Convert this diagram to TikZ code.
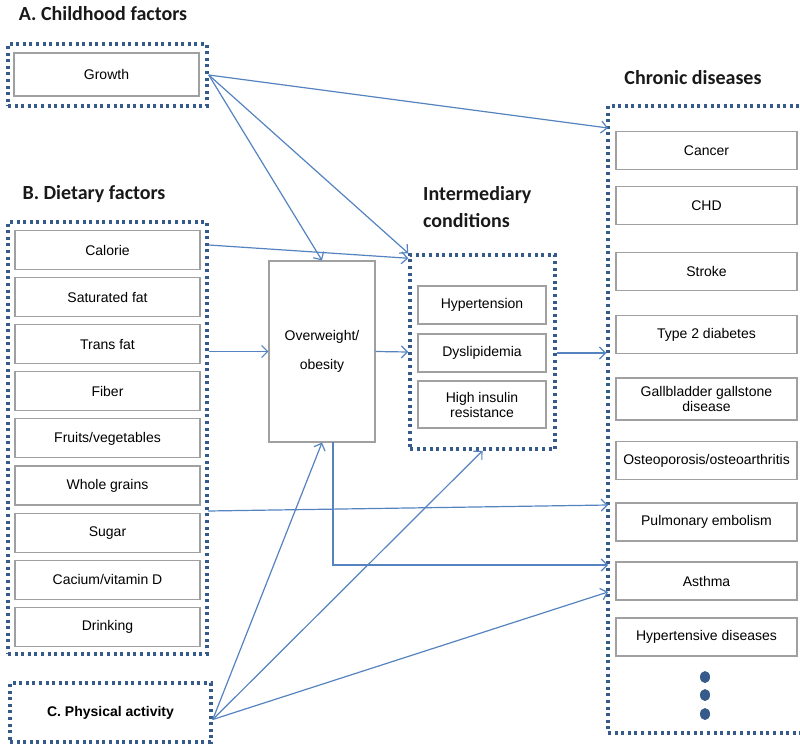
\documentclass[tikz,border=0pt]{standalone}
\usepackage{fontspec}
\setmainfont{Liberation Sans}
\newfontfamily\headfont{Carlito}
\usetikzlibrary{arrows.meta,positioning}

\definecolor{dotblue}{RGB}{54,91,138}
\definecolor{arrowblue}{RGB}{84,131,192}
\definecolor{boxgray}{RGB}{160,160,160}

\tikzset{
  item/.style={draw=boxgray, line width=1.1pt, fill=white, inner sep=1pt,
    align=center, font=\fontsize{14}{15}\selectfont},
  diet/.style={item, minimum width=185pt, minimum height=39pt},
  disease/.style={item, minimum width=181pt, minimum height=38pt},
  cond/.style={item, minimum width=128pt, minimum height=38pt},
  group/.style={draw=dotblue, line width=3.5pt, dash pattern=on 3pt off 3.6pt,
    inner sep=0pt},
  heading/.style={font=\headfont\bfseries\fontsize{20}{27}\selectfont,
    text=black!90, align=left, inner sep=0pt},
  link/.style={draw=arrowblue, line width=1.2pt,
    -{Straight Barb[length=6pt,width=12pt]}},
}

\begin{document}
\begin{tikzpicture}[x=1pt, y=-1pt]
        \useasboundingbox (0,0) rectangle (800,744);

        \node (titleA) [heading] at (103,14)  {A. Childhood factors};
        \node (titleB) [heading] at (94,194)  {B. Dietary factors};
        \node (titleI) [heading, anchor=west] at (423,207) {Intermediary\\conditions};
        \node (titleC) [heading] at (693,78)  {Chronic diseases};

        \node (grpA)    [group, minimum width=199pt, minimum height=62pt]  at (107.5,75)  {};
        \node (grpB)    [group, minimum width=199pt, minimum height=432pt] at (107.5,438) {};
        \node (grpC)    [group, minimum width=201pt, minimum height=59pt,
                         font=\bfseries\fontsize{14}{15}\selectfont]         at (110.5,712.5) {C. Physical activity};
        \node (interm)  [group, minimum width=145pt, minimum height=194pt] at (482.5,352) {};
        \node (chronic) [group, minimum width=198pt, minimum height=627pt] at (707,419.5) {};

        \node (growth)   [diet, minimum height=43pt] at (106.5,74.5) {Growth};

        \node (calorie)  [diet] at (107.5,250)         {Calorie};
        \node (satfat)   [diet, below=7pt of calorie]  {Saturated fat};
        \node (transfat) [diet, below=7pt of satfat]   {Trans fat};
        \node (fiber)    [diet, below=7pt of transfat] {Fiber};
        \node (fruits)   [diet, below=7pt of fiber]    {Fruits/vegetables};
        \node (grains)   [diet, below=7pt of fruits]   {Whole grains};
        \node (sugar)    [diet, below=7pt of grains]   {Sugar};
        \node (calcium)  [diet, below=7pt of sugar]    {Cacium/vitamin D};
        \node (drinking) [diet, below=7pt of calcium]  {Drinking};

        \node (ow) [item, minimum width=106pt, minimum height=181pt,
                    font=\fontsize{14}{29}\selectfont] at (322,351.5) {Overweight/\\obesity};

        \node (hyper)   [cond] at (482,305)   {Hypertension};
        \node (dysl)    [cond] at (482,353)   {Dyslipidemia};
        \node (insulin) [cond, minimum height=47pt] at (482,404.5) {High insulin\\resistance};

        \node (cancer)   [disease] at (706.5,150.5) {Cancer};
        \node (chd)      [disease] at (706.5,205.5) {CHD};
        \node (stroke)   [disease] at (706.5,271.5) {Stroke};
        \node (diabetes) [disease] at (706.5,334.5) {Type 2 diabetes};
        \node (gall)     [disease, minimum height=42pt] at (706.5,399) {Gallbladder gallstone\\disease};
        \node (osteo)    [disease] at (706.5,460.5) {Osteoporosis/osteoarthritis};
        \node (pulm)     [disease] at (706.5,522)   {Pulmonary embolism};
        \node (asthma)   [disease] at (706.5,581)   {Asthma};
        \node (hypdis)   [disease] at (706.5,637)   {Hypertensive diseases};

        \foreach \y in {677,695,714}
          \fill [dotblue] (705,\y) ellipse (5pt and 6pt);

        \coordinate (growthIn)   at (608,128);
        \coordinate (sugarOut)   at (208,511);
        \coordinate (sugarIn)    at (608,505);
        \coordinate (owDown)     at (333,442);
        \coordinate (obesityIn)  at (608,565);
        \coordinate (activityIn) at (608,592);

        \draw [link] (grpA.east) -- (growthIn);
        \draw [link] (grpA.east) -- (ow.north);
        \draw [link] (grpA.east) -- (interm.north west);
        \draw [link] ([yshift=5pt]calorie -| grpB.east) -- ([yshift=-5pt]interm.north west);
        \draw [link] (grpB.east |- ow.west) -- (ow.west);
        \draw [link] (ow.east) -- (interm.west);
        \draw [link] (interm.east |- dysl) -- (chronic.west |- dysl);
        \draw [link] (sugarOut) -- (sugarIn);
        \draw [link] (owDown) |- (obesityIn);
        \draw [link] ([yshift=-7pt]grpC.east) -- (ow.south);
        \draw [link] ([yshift=-7pt]grpC.east) -- (interm.south);
        \draw [link] ([yshift=-7pt]grpC.east) -- (activityIn);
      \end{tikzpicture}
\end{document}
